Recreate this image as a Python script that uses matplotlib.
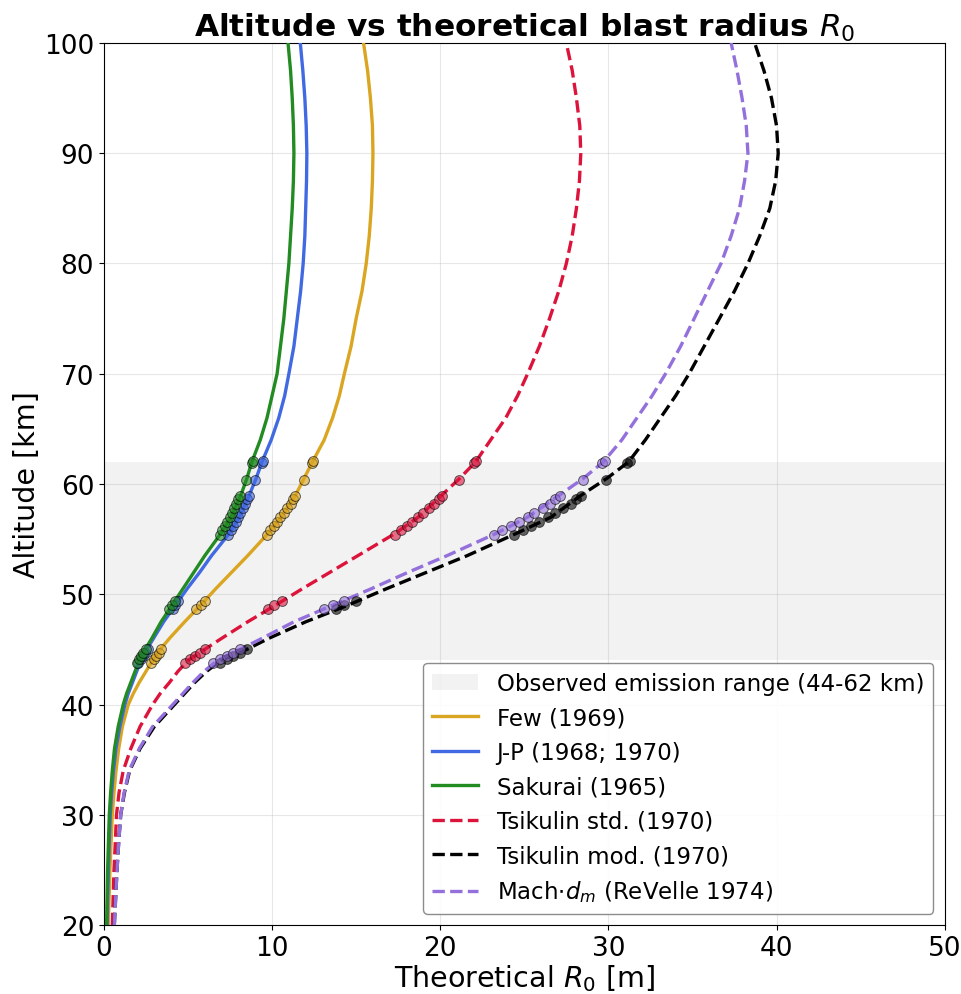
import matplotlib
matplotlib.use("Agg")
import matplotlib.pyplot as plt

# altitude grid for the model curves [km]
alt_grid = [20, 22.5, 25, 27.5, 30, 32, 34, 36, 38, 40, 41, 42, 43, 44, 45, 46, 47.5,
            49, 50.5, 52, 53.5, 55.5, 57, 59, 60.5, 62, 64, 66, 68, 70, 72.5, 75,
            77.5, 80, 82.5, 85, 87.5, 90, 92.5, 95, 97.5, 100]

r0_few = [0.26, 0.31, 0.36, 0.43, 0.5, 0.6, 0.72, 0.88, 1.1, 1.45, 1.75, 2.1, 2.5,
          2.9, 3.35, 3.9, 4.8, 5.75, 6.65, 7.6, 8.55, 9.75, 10.55, 11.4, 11.9, 12.4,
          13.1, 13.6, 14.0, 14.3, 14.7, 15.0, 15.35, 15.6, 15.78, 15.9, 15.97, 16.0,
          15.97, 15.85, 15.68, 15.44]
r0_jp = [0.2, 0.23, 0.27, 0.32, 0.38, 0.46, 0.57, 0.72, 0.95, 1.25, 1.45, 1.7, 1.95,
         2.2, 2.55, 2.95, 3.55, 4.25, 4.95, 5.7, 6.4, 7.45, 8.05, 8.65, 9.05, 9.4,
         9.95, 10.4, 10.75, 11.0, 11.3, 11.5, 11.7, 11.85, 11.95, 12.0, 12.05, 12.07,
         12.03, 11.95, 11.83, 11.68]
r0_sakurai = [0.16, 0.19, 0.22, 0.27, 0.32, 0.4, 0.5, 0.63, 0.85, 1.15, 1.35, 1.6,
              1.85, 2.1, 2.45, 2.85, 3.4, 4.05, 4.7, 5.35, 6.0, 6.95, 7.55, 8.15, 8.5,
              8.8, 9.3, 9.7, 10.0, 10.3, 10.5, 10.7, 10.85, 11.0, 11.1, 11.2, 11.27,
              11.3, 11.27, 11.2, 11.1, 10.95]
r0_tsik_std = [0.5, 0.55, 0.6, 0.68, 0.75, 0.9, 1.15, 1.6, 2.15, 2.9, 3.35, 3.9, 4.4,
               5.0, 6.0, 7.0, 8.55, 10.2, 11.8, 13.45, 15.1, 17.3, 18.7, 20.1, 21.15,
               22.1, 23.0, 23.9, 24.6, 25.2, 25.9, 26.5, 27.05, 27.5, 27.85, 28.1,
               28.28, 28.36, 28.3, 28.1, 27.85, 27.5]
r0_tsik_mod = [0.62, 0.7, 0.78, 0.88, 1.0, 1.22, 1.53, 2.15, 3.0, 4.2, 4.8, 5.4, 6.1,
               6.95, 8.5, 9.8, 12.0, 14.5, 16.8, 19.2, 21.6, 24.5, 26.6, 28.4, 29.9,
               31.2, 32.2, 33.1, 34.0, 34.8, 35.7, 36.6, 37.5, 38.3, 39.0, 39.6, 39.95,
               40.1, 40.0, 39.7, 39.25, 38.7]
r0_mach = [0.62, 0.7, 0.78, 0.88, 1.0, 1.2, 1.5, 2.1, 2.9, 4.1, 4.7, 5.3, 5.95, 6.75,
           8.1, 9.4, 11.3, 13.6, 15.9, 18.1, 20.4, 23.3, 25.2, 27.1, 28.5, 29.7, 30.8,
           31.7, 32.6, 33.4, 34.3, 35.1, 35.9, 36.7, 37.3, 37.8, 38.1, 38.3, 38.2,
           37.95, 37.65, 37.3]

# observed emission altitudes [km] and R0 at each one per model
obs_alt = [43.8, 44.1, 44.4, 44.7, 45.0, 48.7, 49.0, 49.4,
           55.4, 55.8, 56.2, 56.6, 57.0, 57.4, 57.8, 58.2, 58.6, 58.9,
           60.4, 61.9, 62.1]
obs_few = [2.8, 2.95, 3.1, 3.25, 3.4, 5.5, 5.75, 6.0,
           9.7, 9.9, 10.1, 10.3, 10.5, 10.7, 10.9, 11.1, 11.25, 11.35,
           11.9, 12.35, 12.45]
obs_jp = [2.05, 2.18, 2.3, 2.45, 2.6, 4.1, 4.25, 4.4,
          7.4, 7.55, 7.7, 7.85, 8.0, 8.1, 8.25, 8.4, 8.5, 8.6,
          9.0, 9.38, 9.45]
obs_sakurai = [1.95, 2.08, 2.2, 2.35, 2.5, 3.9, 4.05, 4.2,
               6.9, 7.05, 7.2, 7.35, 7.5, 7.6, 7.75, 7.85, 8.0, 8.1,
               8.45, 8.78, 8.85]
obs_tsik_std = [4.85, 5.1, 5.4, 5.7, 6.0, 9.75, 10.1, 10.6,
                17.3, 17.65, 18.0, 18.35, 18.7, 19.0, 19.35, 19.65, 19.9, 20.1,
                21.1, 22.0, 22.15]
obs_tsik_mod = [6.9, 7.3, 7.7, 8.1, 8.5, 13.8, 14.3, 15.0,
                24.4, 24.9, 25.4, 25.9, 26.4, 26.85, 27.3, 27.75, 28.1, 28.4,
                29.85, 31.1, 31.3]
obs_mach = [6.5, 6.9, 7.3, 7.7, 8.1, 13.1, 13.6, 14.3,
            23.2, 23.7, 24.2, 24.7, 25.2, 25.6, 26.1, 26.5, 26.85, 27.1,
            28.5, 29.6, 29.8]

emission_range = (44, 62)

models = [
    ("Few (1969)", r0_few, obs_few, "goldenrod", "-"),
    ("J-P (1968; 1970)", r0_jp, obs_jp, "royalblue", "-"),
    ("Sakurai (1965)", r0_sakurai, obs_sakurai, "forestgreen", "-"),
    ("Tsikulin std. (1970)", r0_tsik_std, obs_tsik_std, "crimson", "--"),
    ("Tsikulin mod. (1970)", r0_tsik_mod, obs_tsik_mod, "black", "--"),
    (r"Mach$\cdot d_m$ (ReVelle 1974)", r0_mach, obs_mach, "mediumpurple", "--"),
]

fig = plt.figure(figsize=(9.62, 9.95), dpi=100)
ax = fig.add_axes([0.108, 0.0693, 0.874, 0.8865])

ax.axhspan(*emission_range, color="gray", alpha=0.1, lw=0,
           label="Observed emission range (44-62 km)")

for label, r0, obs, color, ls in models:
    ax.plot(r0, alt_grid, color=color, ls=ls, lw=2.4, label=label, zorder=3)
    ax.scatter(obs, obs_alt, color=color, s=50, alpha=0.6,
               edgecolors="black", linewidths=0.7, zorder=4)

ax.set_xlim(0, 50)
ax.set_ylim(20, 100)
ax.grid(True, alpha=0.3)
ax.tick_params(labelsize=19)
ax.set_xlabel("Theoretical $R_0$ [m]", fontsize=20.5, labelpad=1)
ax.set_ylabel("Altitude [km]", fontsize=20.5, labelpad=2)
ax.set_title("Altitude vs theoretical blast radius $R_0$", fontsize=22.5,
             fontweight="bold", pad=3)
ax.legend(loc="lower right", fontsize=16.5, framealpha=0.9, edgecolor="gray")

fig.savefig("out.png", dpi=100)
